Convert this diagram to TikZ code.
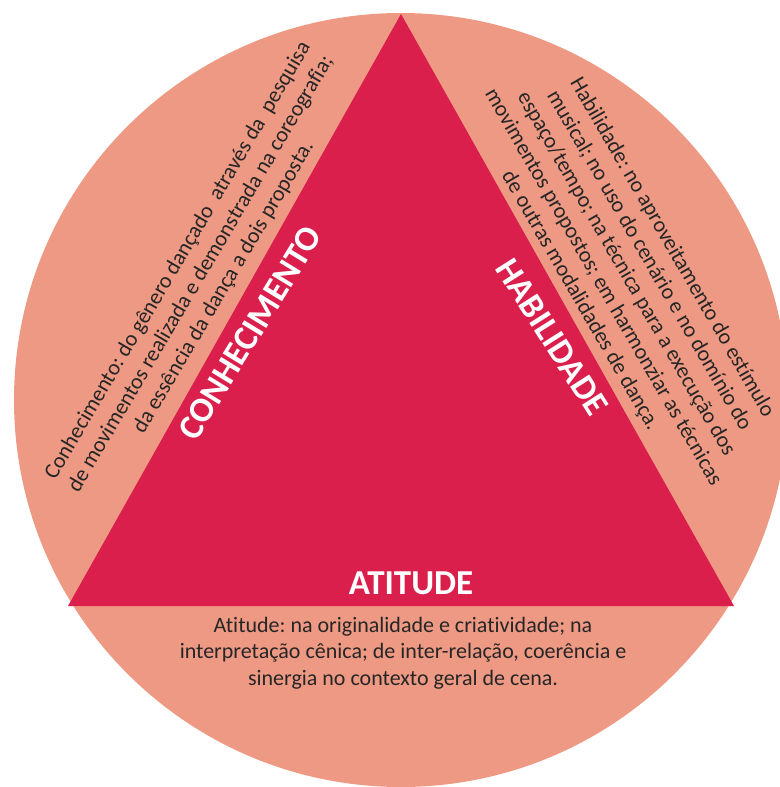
\documentclass[tikz,border=0pt]{standalone}
\usepackage{fontspec}
\setmainfont{Carlito}[Ligatures={NoCommon}]
\usepackage{xcolor}
\usetikzlibrary{positioning}
\definecolor{salmon}{HTML}{EE9983}
\definecolor{crimson}{HTML}{DB1F4C}
\tikzstyle{desc} = [text=black!85, align=center, inner sep=0pt, font=\fontsize{22}{26.5}\selectfont]
\tikzstyle{title} = [text=white, inner sep=0pt, font=\fontsize{35}{40}\selectfont\bfseries]
\frenchspacing

\begin{document}
\begin{tikzpicture}[x=1pt, y=-1pt]
  \useasboundingbox (0,0) rectangle (779,787);
  \fill[salmon] (401,400) circle (387pt);
  \coordinate (apex) at (401,14);
  \coordinate (left) at (68,606);
  \coordinate (right) at (734,606);
  \fill[crimson] (apex) -- (left) -- (right) -- cycle;

  \node[desc, rotate=59.5] (conhecimentoTxt) at (201,274) {Conhecimento: do gênero dançado\ \ através da\ \ pesquisa\\de movimentos realizada e demonstrada na coreografia;\\da essência da dança a dois proposta.};
  \node[title, rotate=58.5] (conhecimento) at (250,333) {CONHECIMENTO};

  \node[desc, rotate=-60] (habilidadeTxt) at (626,274) {Habilidade: no aproveitamento do estímulo\\musical; no uso do cenário e no domínio do\\espaço/tempo; na técnica para a execução dos\\movimentos propostos; em harmonziar as técnicas\\de outras modalidades de dança.};
  \node[title, rotate=-57.5] (habilidade) at (552,337) {HABILIDADE};

  \node[title] (atitude) at (411,583) {ATITUDE};
  \node[desc] (atitudeTxt) at (403,653) {Atitude: na originalidade e criatividade; na\\interpretação cênica; de inter-relação, coerência e\\sinergia no contexto geral de cena.};
\end{tikzpicture}
\end{document}
